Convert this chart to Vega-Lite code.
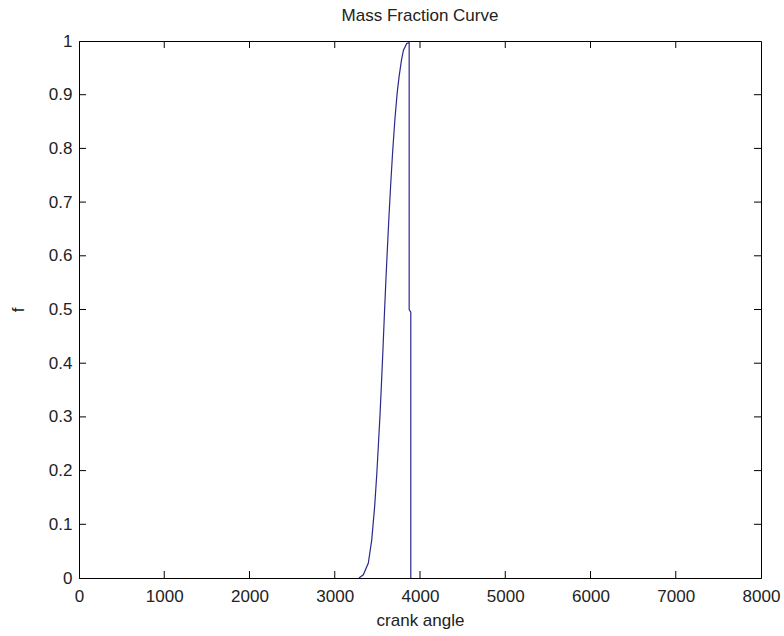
{
  "$schema": "https://vega.github.io/schema/vega-lite/v6.json",
  "autosize": "none",
  "width": 682,
  "height": 537,
  "padding": {"left": 79, "top": 41, "right": 23, "bottom": 58},
  "background": "white",
  "config": {
    "view": {"stroke": "black", "strokeWidth": 1},
    "font": "Liberation Sans",
    "axis": {
      "domainColor": "black",
      "labelColor": "#222",
      "titleColor": "#222",
      "labelFont": "Liberation Sans",
      "titleFont": "Liberation Sans",
      "labelFontSize": 17,
      "titleFontSize": 17,
      "titleFontWeight": "normal",
      "grid": false,
      "ticks": false
    }
  },
  "title": {
    "text": "Mass Fraction Curve",
    "fontSize": 17,
    "fontWeight": "normal",
    "font": "Liberation Sans",
    "color": "#222",
    "offset": 7
  },
  "layer": [
    {
      "data": {
        "values": [
          {"i": 1, "angle": 3284, "f": 0},
          {"i": 2, "angle": 3335, "f": 0.006},
          {"i": 3, "angle": 3394, "f": 0.028},
          {"i": 4, "angle": 3434, "f": 0.071},
          {"i": 5, "angle": 3468, "f": 0.133},
          {"i": 6, "angle": 3494, "f": 0.196},
          {"i": 7, "angle": 3515, "f": 0.257},
          {"i": 8, "angle": 3532, "f": 0.307},
          {"i": 9, "angle": 3550, "f": 0.369},
          {"i": 10, "angle": 3567, "f": 0.431},
          {"i": 11, "angle": 3583, "f": 0.493},
          {"i": 12, "angle": 3600, "f": 0.555},
          {"i": 13, "angle": 3615, "f": 0.605},
          {"i": 14, "angle": 3634, "f": 0.667},
          {"i": 15, "angle": 3655, "f": 0.729},
          {"i": 16, "angle": 3678, "f": 0.791},
          {"i": 17, "angle": 3705, "f": 0.853},
          {"i": 18, "angle": 3732, "f": 0.903},
          {"i": 19, "angle": 3755, "f": 0.934},
          {"i": 20, "angle": 3783, "f": 0.965},
          {"i": 21, "angle": 3806, "f": 0.983},
          {"i": 22, "angle": 3844, "f": 0.9955},
          {"i": 23, "angle": 3873, "f": 0.997},
          {"i": 24, "angle": 3873, "f": 0.5},
          {"i": 25, "angle": 3892, "f": 0.495},
          {"i": 26, "angle": 3892, "f": 0}
        ]
      },
      "mark": {"type": "line", "color": "#2a2a8c", "strokeWidth": 1.2, "clip": true},
      "encoding": {
        "x": {
          "field": "angle", "type": "quantitative",
          "scale": {"domain": [0, 8000], "nice": false, "zero": false},
          "axis": {"values": [0,1000,2000,3000,4000,5000,6000,7000,8000], "title": "crank angle", "labelPadding": 10, "titlePadding": 8, "format": "d", "labelFlush": false}
        },
        "y": {
          "field": "f", "type": "quantitative",
          "scale": {"domain": [0, 1], "nice": false},
          "axis": {"values": [0,0.1,0.2,0.3,0.4,0.5,0.6,0.7,0.8,0.9,1], "title": "f", "labelPadding": 7, "titlePadding": 21, "format": "~g", "labelFlush": false}
        },
        "order": {"field": "i", "type": "quantitative"}
      }
    },
    {
      "data": {"values": [{"angle": 1000}, {"angle": 2000}, {"angle": 3000}, {"angle": 4000}, {"angle": 5000}, {"angle": 6000}, {"angle": 7000}]},
      "mark": {"type": "rule", "color": "black", "strokeWidth": 1},
      "encoding": {
        "x": {"field": "angle", "type": "quantitative"},
        "y": {"datum": 0},
        "y2": {"datum": 0.013}
      }
    },
    {
      "data": {"values": [{"angle": 1000}, {"angle": 2000}, {"angle": 3000}, {"angle": 4000}, {"angle": 5000}, {"angle": 6000}, {"angle": 7000}]},
      "mark": {"type": "rule", "color": "black", "strokeWidth": 1},
      "encoding": {
        "x": {"field": "angle", "type": "quantitative"},
        "y": {"datum": 1},
        "y2": {"datum": 0.987}
      }
    },
    {
      "data": {"values": [{"f": 0.1}, {"f": 0.2}, {"f": 0.3}, {"f": 0.4}, {"f": 0.5}, {"f": 0.6}, {"f": 0.7}, {"f": 0.8}, {"f": 0.9}]},
      "mark": {"type": "rule", "color": "black", "strokeWidth": 1},
      "encoding": {
        "y": {"field": "f", "type": "quantitative"},
        "x": {"datum": 0},
        "x2": {"datum": 82}
      }
    },
    {
      "data": {"values": [{"f": 0.1}, {"f": 0.2}, {"f": 0.3}, {"f": 0.4}, {"f": 0.5}, {"f": 0.6}, {"f": 0.7}, {"f": 0.8}, {"f": 0.9}]},
      "mark": {"type": "rule", "color": "black", "strokeWidth": 1},
      "encoding": {
        "y": {"field": "f", "type": "quantitative"},
        "x": {"datum": 8000},
        "x2": {"datum": 7918}
      }
    }
  ]
}
